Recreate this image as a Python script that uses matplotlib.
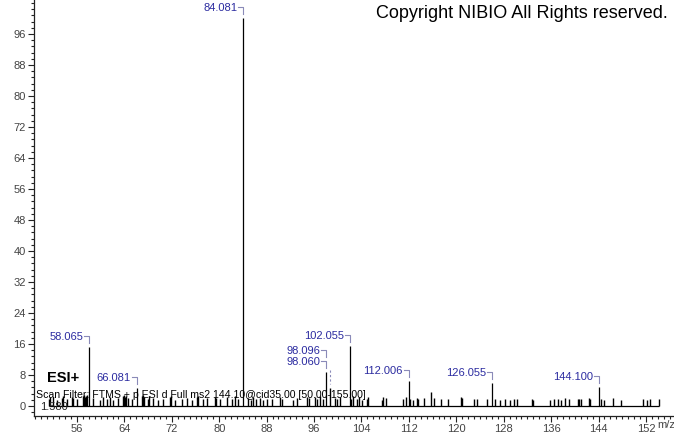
import matplotlib
matplotlib.use("Agg")
import matplotlib.pyplot as plt
from matplotlib.ticker import MultipleLocator

plt.rcParams['font.family'] = ['Liberation Sans', 'DejaVu Sans']

# labelled peaks (m/z, relative abundance)
label_mz = [58.065, 66.081, 84.081, 98.060, 102.055, 112.006, 126.055, 144.100]
label_int = [15.2, 4.6, 100.0, 8.8, 15.5, 6.5, 5.9, 4.9]
label_txt = ["58.065", "66.081", "84.081", "98.060", "102.055", "112.006", "126.055", "144.100"]

# small unlabelled peaks
minor_mz = [51.33, 51.5, 52.0, 52.57, 53.42, 53.6, 54.26, 55.1, 55.3, 56.05, 57.01, 57.2, 57.35, 57.5, 57.69,
            58.75, 59.88, 60.4, 61.0, 61.6, 62.12, 62.97, 63.76, 63.9, 64.1, 64.3, 64.6, 65.23, 66.92,
            67.1, 67.3, 68.03, 68.2, 68.87, 69.72, 70.56, 71.69, 71.9, 72.53, 73.66, 74.51, 75.35,
            76.2, 76.4, 77.31, 77.88, 79.28, 79.5, 80.13, 81.26, 82.1, 82.66, 83.2, 84.9,
            85.3, 85.75, 86.2, 86.88, 87.43, 88.0, 88.85, 90.25, 90.54, 92.5,
            93.07, 94.86, 95.09, 96.16, 96.55, 97.0, 97.56, 98.69, 99.53, 99.92,
            100.37, 102.18, 102.62, 103.19, 103.63, 104.03, 104.88, 105.15, 107.41, 107.68,
            108.13, 111.06, 111.46, 112.18, 112.64, 113.31, 113.59, 114.55, 115.73, 116.23,
            117.36, 118.65, 120.79, 120.95, 122.98, 123.54, 125.12, 126.47, 127.37, 128.16,
            129.06, 129.73, 130.29, 132.85, 133.0, 135.8, 136.48, 137.15, 137.61, 138.28,
            139.06, 140.53, 140.75, 141.03, 142.38, 142.64, 144.36, 144.92, 146.49, 147.84,
            151.45, 152.12, 152.68, 154.14]
minor_int = [1.8, 2.4, 2.2, 1.6, 2.0, 2.5, 1.7, 2.4, 2.0, 1.9, 2.6, 2.9, 2.2, 2.5, 2.8,
             2.0, 1.6, 2.2, 1.9, 2.4, 1.5, 2.1, 2.6, 2.9, 2.3, 2.5, 2.0, 1.8, 2.5,
             2.8, 2.2, 1.7, 2.6, 2.0, 1.6, 1.9, 2.2, 2.7, 1.5, 1.8, 2.1, 1.6,
             2.3, 2.7, 1.7, 2.0, 2.4, 2.0, 1.8, 2.2, 1.9, 2.6, 1.7, 2.0,
             1.6, 2.2, 1.8, 2.1, 1.5, 1.9, 1.7, 2.2, 1.8, 1.6,
             2.0, 2.4, 2.0, 2.3, 1.9, 2.5, 1.8, 4.6, 2.1, 1.7,
             2.3, 1.9, 2.6, 1.8, 2.2, 1.6, 1.9, 2.2, 1.6, 2.3,
             2.0, 1.8, 2.2, 1.9, 1.6, 2.1, 1.7, 2.0, 3.6, 2.0,
             1.8, 1.9, 2.3, 2.0, 1.9, 1.8, 1.7, 1.8, 1.6, 1.7,
             1.6, 1.8, 1.9, 1.8, 1.6, 1.6, 1.8, 1.7, 1.5, 2.0,
             1.7, 1.8, 1.9, 1.7, 2.0, 1.9, 1.7, 1.6, 2.1, 1.6,
             1.8, 1.6, 1.7, 1.8]

W, H = 674, 434
fig = plt.figure(figsize=(W / 100, H / 100), dpi=100)
ax = fig.add_axes([34 / W, 18 / H, 640 / W, 416 / H])
ax.set_xlim(48.75, 156.73)
ax.set_ylim(-2.58, 104.77)

all_mz = minor_mz + label_mz
ax.vlines(minor_mz, 0, minor_int, color="black", lw=1.0)
ax.vlines(label_mz, 0, label_int, color="black", lw=0.9)
ax.hlines(0, min(all_mz), max(all_mz), color="black", lw=0.9)

# axes styling
for s in ["top", "right"]:
    ax.spines[s].set_visible(False)
for s in ["left", "bottom"]:
    ax.spines[s].set_color("#222222")
    ax.spines[s].set_linewidth(0.9)
ax.xaxis.set_minor_locator(MultipleLocator(1))
ax.yaxis.set_minor_locator(MultipleLocator(1.6))
ax.set_xticks([56 + 8 * i for i in range(13)])
ax.set_yticks([8 * i for i in range(13)])
ax.tick_params(which="major", length=4, width=0.8, colors="#222222", labelsize=8,
               labelcolor="#444444", pad=2)
ax.tick_params(which="minor", length=2, width=0.8, colors="#222222")

# peak labels with bracket leaders
to_px = ax.transData
to_data = ax.transData.inverted()


def px_path(x, y, pts):
    px, py = to_px.transform((x, y))
    return zip(*[to_data.transform((px + dx, py + dy)) for dx, dy in pts])


for mz, it, txt in zip(label_mz, label_int, label_txt):
    bx, by = px_path(mz, it, [(-5, 11), (0, 11), (0, 4)])
    ax.plot(bx, by, color="#8a8ab8", lw=0.8)
    tx, ty = px_path(mz, it, [(-6, 10)])
    ax.text(tx[0], ty[0], txt, color="#2b2ba0", fontsize=8, ha="right", va="center")

# second label on the 98 cluster, stacked above
bx, by = px_path(98.060, 8.8, [(-5, 22), (0, 22), (0, 15)])
ax.plot(bx, by, color="#8a8ab8", lw=0.8)
tx, ty = px_path(98.060, 8.8, [(-6, 21)])
ax.text(tx[0], ty[0], "98.096", color="#2b2ba0", fontsize=8, ha="right", va="center")
bx, by = px_path(98.69, 4.6, [(0, 18), (0, 4)])
ax.plot(bx, by, color="#8a8ab8", lw=0.8, ls=(0, (2, 2)))

# annotations
fig.text(668 / W, 1 - 14 / H, "Copyright NIBIO All Rights reserved.", fontsize=13,
         ha="right", va="center", color="black")
fig.text(47 / W, 1 - 378 / H, "ESI+", fontsize=10.5, fontweight="bold", ha="left", va="center")
fig.text(36 / W, 1 - 395 / H, "Scan Filter: FTMS + p ESI d Full ms2 144.10@cid35.00 [50.00-155.00]",
         fontsize=7.6, ha="left", va="center", color="black")
fig.text(40 / W, 1 - 407 / H, "1.580", fontsize=8, ha="left", va="center", color="#222222")
fig.text(657 / W, 1 - 425 / H, "m/z", fontsize=8, ha="left", va="center", color="#444444")

fig.savefig("out.png", dpi=100)
